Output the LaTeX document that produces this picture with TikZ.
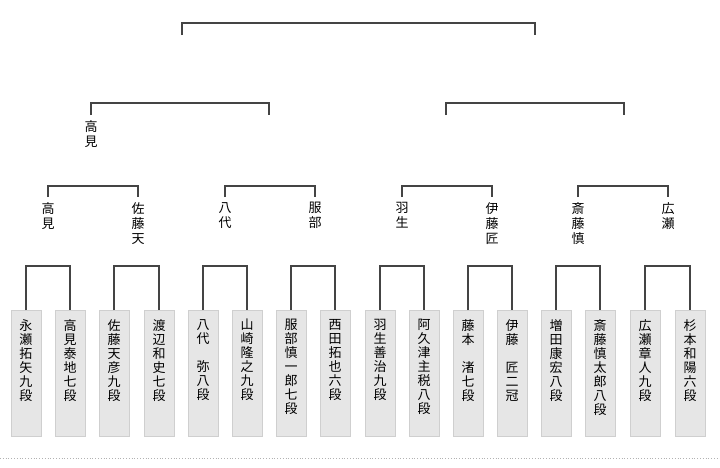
\documentclass[tikz,border=0pt]{standalone}
\usepackage{fontspec}
\newfontfamily\jp{Noto Sans CJK JP}
\definecolor{ln}{HTML}{444444}
\definecolor{bx}{HTML}{E6E6E6}
\definecolor{bd}{HTML}{CFCFCF}
\tikzset{
  br/.style={draw=ln,line width=1.3pt},
  pbox/.style={draw=bd,fill=bx,minimum width=30pt,minimum height=126pt,anchor=north,inner sep=0pt},
  vtxt/.style={anchor=north,align=center,inner sep=0pt,font=\jp\fontsize{13pt}{14pt}\selectfont,text=black},
  lbl/.style={anchor=north,align=center,inner sep=0pt,font=\jp\fontsize{13pt}{15pt}\selectfont,text=black}
}
\begin{document}
\begin{tikzpicture}[x=1pt,y=-1pt]
\useasboundingbox (0,0) rectangle (720,467);
\fill[white] (0,0) rectangle (720,467);
% players
\foreach \i/\cx/\t in {1/26/永\\瀬\\拓\\矢\\九\\段, 2/70/高\\見\\泰\\地\\七\\段, 3/114/佐\\藤\\天\\彦\\九\\段, 4/159/渡\\辺\\和\\史\\七\\段,
  5/203/八\\代\\　\\弥\\八\\段, 6/247/山\\崎\\隆\\之\\九\\段, 7/291/服\\部\\慎\\一\\郎\\七\\段, 8/335/西\\田\\拓\\也\\六\\段,
  9/380/羽\\生\\善\\治\\九\\段, 10/424/阿\\久\\津\\主\\税\\八\\段, 11/468/藤\\本\\　\\渚\\七\\段, 12/512/伊\\藤\\　\\匠\\二\\冠,
  13/556/増\\田\\康\\宏\\八\\段, 14/600/斎\\藤\\慎\\太\\郎\\八\\段, 15/645/広\\瀬\\章\\人\\九\\段, 16/690/杉\\本\\和\\陽\\六\\段}{
  \node[pbox] (p\i) at (\cx,310) {};
  \node[vtxt] (t\i) at (\cx,319) {\t};
}
% round 1 brackets
\foreach \a/\b in {1/2,3/4,5/6,7/8,9/10,11/12,13/14,15/16}{
  \draw[br] (p\a.north) -- ++(0,-44) -| (p\b.north);
}
% round 2 labels
\foreach \n/\cx/\t in {a/48/高\\見, b/138/佐\\藤\\天, c/225/八\\代, d/315/服\\部, e/402/羽\\生, f/492/伊\\藤\\匠, g/578/斎\\藤\\慎, h/668/広\\瀬}{
  \coordinate (r\n) at (\cx,197);
  \node[lbl] (l\n) at (\cx,202) {\t};
}
\foreach \a/\b in {a/b,c/d,e/f,g/h}{
  \draw[br] (r\a) -- ++(0,-11) -| (r\b);
}
% round 3
\coordinate (sA) at (91,115); \coordinate (sB) at (269,115);
\coordinate (sC) at (446,115); \coordinate (sD) at (624,115);
\node[lbl] (lA) at (91,120) {高\\見};
\draw[br] (sA) -- ++(0,-12) -| (sB);
\draw[br] (sC) -- ++(0,-12) -| (sD);
% final
\coordinate (fA) at (182,35); \coordinate (fB) at (535,35);
\draw[br] (fA) -- ++(0,-12) -| (fB);
% dotted line
\coordinate (d1) at (0,458); \coordinate (d2) at (720,458);
\draw[gray!60,dotted,line width=0.8pt] (d1) -- (d2);
\end{tikzpicture}
\end{document}
